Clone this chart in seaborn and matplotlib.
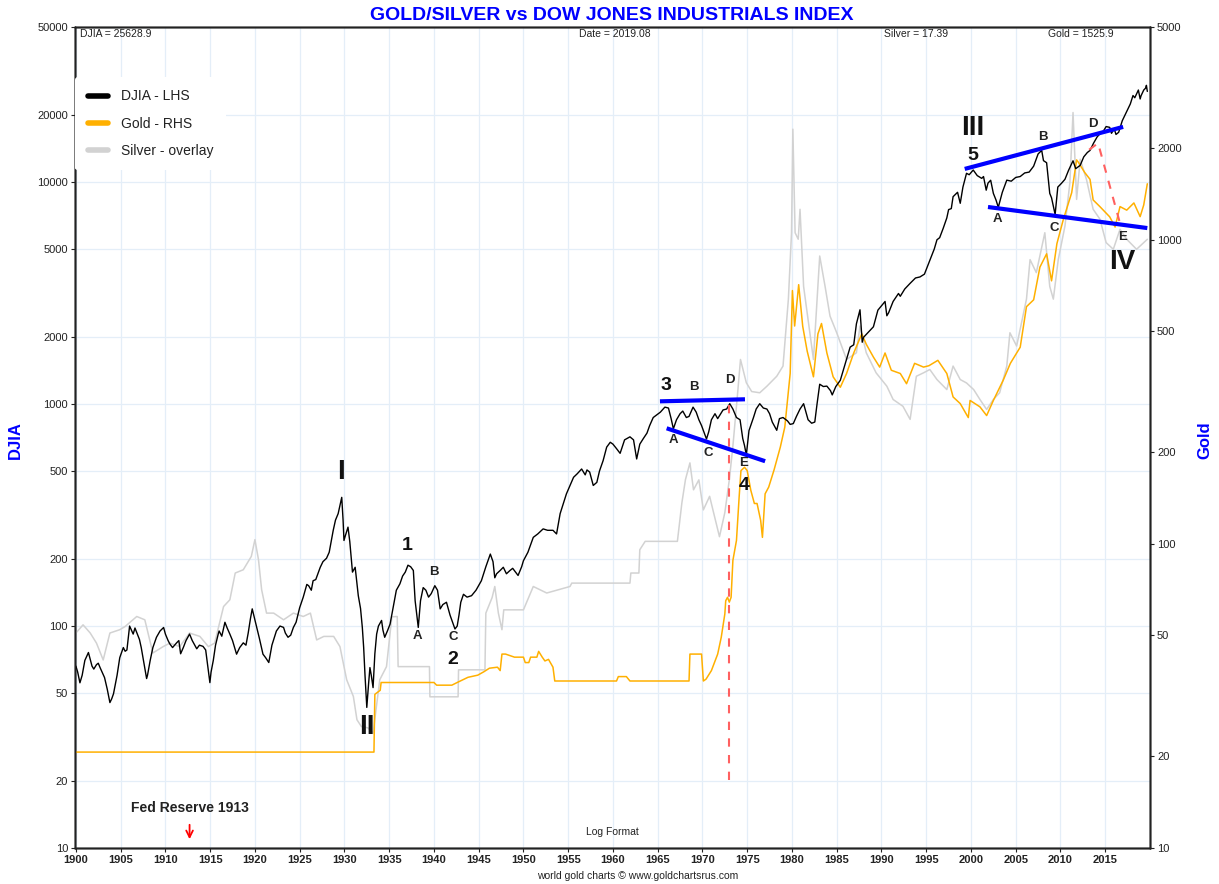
import numpy as np
import pandas as pd
import matplotlib
matplotlib.use("Agg")
import matplotlib.pyplot as plt
import matplotlib.transforms as mtransforms
from matplotlib.lines import Line2D
from matplotlib.ticker import NullLocator, FixedLocator
import seaborn as sns

sns.set_theme(style="white")
plt.rcParams['font.family'] = ['Liberation Sans', 'DejaVu Sans']

# ---------------- data ----------------
# DJIA, 1900-1935
djia_a_year = [1900.0, 1900.2, 1900.45, 1900.7, 1901.0, 1901.2, 1901.4, 1901.8, 1902.0, 1902.3,
               1902.5, 1902.7, 1903.2, 1903.5, 1903.8, 1904.0, 1904.2, 1904.6, 1904.9, 1905.0,
               1905.3, 1905.5, 1905.7, 1906.0, 1906.2, 1906.4, 1906.6, 1906.8, 1907.1, 1907.3,
               1907.6, 1907.9, 1908.0, 1908.3, 1908.6, 1909.0, 1909.4, 1909.8, 1910.0, 1910.3,
               1910.5, 1910.8, 1911.25, 1911.5, 1911.7, 1912.0, 1912.3, 1912.7, 1913.0, 1913.5,
               1913.8, 1914.2, 1914.5, 1914.97, 1915.1, 1915.35, 1915.6, 1915.9, 1916.0, 1916.3,
               1916.65, 1916.9, 1917.2, 1917.5, 1917.95, 1918.3, 1918.7, 1919.0, 1919.25, 1919.5,
               1919.7, 1920.2, 1920.5, 1920.9, 1921.2, 1921.55, 1921.9, 1922.4, 1922.8, 1923.2,
               1923.4, 1923.7, 1924.0, 1924.3, 1924.6, 1925.0, 1925.4, 1925.8, 1926.0, 1926.3,
               1926.5, 1926.8, 1927.3, 1927.6, 1928.0, 1928.3, 1928.75, 1929.0, 1929.3, 1929.7,
               1929.85, 1929.95, 1930.1, 1930.4, 1930.6, 1930.9, 1931.2, 1931.55, 1931.8, 1932.0,
               1932.15, 1932.3, 1932.5, 1932.7, 1932.85, 1933.0, 1933.2, 1933.4, 1933.6, 1933.8,
               1934.15, 1934.3, 1934.5, 1934.8]
djia_a_val = [66, 62, 55.5, 60, 70, 73, 76, 66, 64, 67,
              68, 65, 58.6, 52, 45.2, 47, 49.5, 60, 72, 74,
              80, 77, 78, 100, 96, 92, 98, 93.5, 87, 80,
              68, 58, 60, 70, 80, 89, 95, 98.5, 92, 86,
              83, 80, 84, 86, 75, 80, 86, 92, 86, 79,
              82, 81, 78, 55.6, 62, 70, 82, 92, 95, 90,
              104, 98, 92, 86, 74.7, 80, 84, 82, 93, 108,
              119.5, 98.6, 88, 74.7, 72, 68.5, 82, 95, 100, 98.6,
              93, 89, 91, 98.6, 104, 121, 135, 154, 152, 145,
              160, 162, 184, 195, 202, 215, 270, 300, 321, 380,
              300, 243, 255, 279, 240, 175, 184, 137, 120, 98.6,
              80, 60, 43, 55, 65, 60, 52.8, 75, 92, 100,
              106, 96, 89, 95]

# DJIA, 1935-1975
djia_b_year = [1935.1, 1935.5, 1935.8, 1936.2, 1936.5, 1936.8, 1937.1, 1937.4, 1937.7, 1937.9,
               1938.0, 1938.25, 1938.5, 1938.8, 1939.1, 1939.4, 1939.7, 1940.1, 1940.4, 1940.7,
               1941.0, 1941.4, 1941.8, 1942.35, 1942.6, 1942.8, 1943.0, 1943.3, 1943.7, 1944.2,
               1944.7, 1945.3, 1945.8, 1946.3, 1946.6, 1946.8, 1947.0, 1947.4, 1947.75, 1948.1,
               1948.5, 1948.8, 1949.4, 1949.8, 1950.0, 1950.5, 1951.1, 1951.6, 1952.2, 1952.7,
               1953.3, 1953.7, 1954.1, 1954.8, 1955.1, 1955.6, 1956.0, 1956.5, 1956.9, 1957.1,
               1957.4, 1957.8, 1958.2, 1958.5, 1958.9, 1959.3, 1959.7, 1960.0, 1960.4, 1960.8,
               1961.3, 1961.9, 1962.3, 1962.65, 1963.0, 1963.4, 1963.8, 1964.1, 1964.5, 1965.3,
               1965.8, 1966.2, 1966.5, 1966.75, 1967.1, 1967.5, 1967.8, 1968.2, 1968.5, 1968.95,
               1969.3, 1969.6, 1969.9, 1970.45, 1970.7, 1971.0, 1971.4, 1971.7, 1972.3, 1972.7,
               1973.05, 1973.4, 1973.8, 1974.2, 1974.5, 1974.7, 1974.9, 1975.2, 1975.7]
djia_b_val = [102, 125, 145, 155, 168, 175, 188, 185, 178, 130,
              120, 98.6, 130, 149, 145, 135, 140, 152, 145, 119.5,
              125, 128, 112, 97, 100, 112, 128, 139, 135, 137,
              145, 160, 185, 211, 195, 165, 172, 178, 184, 172,
              178, 182, 169, 185, 197, 215, 251, 260, 274, 270,
              270, 260, 321, 394, 420, 468, 485, 510, 480, 505,
              494, 430, 444, 500, 556, 640, 673, 660, 630, 600,
              690, 712, 690, 566, 660, 700, 740, 800, 870, 920,
              969, 960, 860, 774, 850, 905, 930, 870, 880, 969,
              920, 850, 800, 696, 750, 850, 905, 860, 941, 950,
              1004, 950, 870, 850, 700, 650, 590, 760, 870]

# DJIA, 1976-2019
djia_c_year = [1976.0, 1976.4, 1976.8, 1977.2, 1977.5, 1977.8, 1978.3, 1978.6, 1979.0, 1979.5,
               1979.8, 1980.15, 1980.5, 1980.9, 1981.3, 1981.8, 1982.2, 1982.55, 1982.8, 1983.1,
               1983.5, 1983.9, 1984.3, 1984.5, 1984.9, 1985.4, 1985.8, 1986.5, 1986.9, 1987.2,
               1987.6, 1987.85, 1988.0, 1988.5, 1989.1, 1989.6, 1990.4, 1990.6, 1990.8, 1991.3,
               1991.9, 1992.1, 1992.6, 1993.2, 1993.8, 1994.3, 1994.8, 1995.4, 1995.9, 1996.2,
               1996.5, 1996.9, 1997.3, 1997.5, 1997.8, 1998.0, 1998.5, 1998.8, 1999.1, 1999.5,
               1999.8, 2000.25, 2000.7, 2001.2, 2001.4, 2001.7, 2001.9, 2002.2, 2002.5, 2002.8,
               2003.05, 2003.5, 2004.0, 2004.5, 2005.0, 2005.5, 2006.0, 2006.5, 2007.0, 2007.5,
               2007.9, 2008.1, 2008.45, 2008.8, 2009.0, 2009.4, 2009.7, 2010.1, 2010.5, 2010.9,
               2011.4, 2011.7, 2012.2, 2012.6, 2013.0, 2013.3, 2013.7, 2014.1, 2014.4, 2014.8,
               2015.1, 2015.5, 2015.7, 2016.0, 2016.2, 2016.5, 2016.9, 2017.4, 2017.8, 2018.1,
               2018.3, 2018.5, 2018.7, 2018.9, 2019.0, 2019.3, 2019.5, 2019.6, 2019.7]
djia_c_val = [950, 1004, 960, 950, 905, 830, 762, 860, 870, 840,
              810, 817, 880, 950, 1004, 850, 820, 830, 1000, 1229,
              1200, 1205, 1150, 1100, 1200, 1280, 1450, 1806, 1850, 2300,
              2660, 1900, 2000, 2100, 2230, 2650, 2900, 2500, 2580, 2900,
              3150, 3060, 3300, 3500, 3700, 3740, 3850, 4440, 5000, 5500,
              5620, 6200, 6900, 7520, 7600, 8600, 9000, 8030, 9500, 10960,
              10800, 11340, 10700, 10400, 10600, 9200, 9900, 10200, 8900, 8300,
              7700, 9000, 10210, 10100, 10500, 10600, 11000, 11100, 11800, 13400,
              13900, 12500, 12230, 8900, 8500, 7150, 9500, 9870, 10300, 11300,
              12480, 11500, 11900, 13000, 13600, 13900, 15000, 16000, 16500, 17000,
              17800, 17650, 16600, 17400, 16400, 16770, 18900, 20800, 22500, 24560,
              24000, 25000, 26000, 23700, 24500, 26000, 26500, 27300, 25628.9]

gold_year = [1900.0, 1933.3, 1933.4, 1934.0, 1934.1, 1940.0, 1940.3, 1942.0, 1942.6, 1943.8,
             1944.9, 1945.6, 1946.2, 1947.1, 1947.4, 1947.6, 1948.0, 1949.0, 1950.0, 1950.2,
             1950.6, 1950.8, 1951.5, 1951.7, 1952.1, 1952.4, 1952.8, 1953.3, 1953.5, 1960.4,
             1960.6, 1961.5, 1961.9, 1968.5, 1968.6, 1969.9, 1970.1, 1970.4, 1971.0, 1971.7,
             1972.1, 1972.5, 1972.6, 1972.8, 1973.0, 1973.2, 1973.4, 1973.8, 1974.1, 1974.3,
             1974.7, 1975.0, 1975.4, 1975.8, 1976.1, 1976.5, 1976.7, 1977.0, 1977.4, 1978.0,
             1978.7, 1979.2, 1979.8, 1980.05, 1980.3, 1980.75, 1981.2, 1981.7, 1982.4, 1982.9,
             1983.3, 1983.9, 1984.6, 1985.4, 1986.1, 1986.9, 1987.8, 1988.3, 1989.1, 1989.8,
             1990.4, 1991.1, 1992.1, 1992.8, 1993.7, 1994.7, 1995.3, 1996.3, 1997.3, 1998.0,
             1998.8, 1999.7, 1999.9, 2001.0, 2001.75, 2002.5, 2003.6, 2004.4, 2005.5, 2006.2,
             2007.0, 2007.7, 2008.45, 2009.0, 2009.6, 2010.3, 2011.25, 2011.8, 2012.0, 2012.7,
             2013.3, 2013.65, 2014.4, 2015.5, 2016.1, 2016.65, 2017.4, 2018.2, 2018.9, 2019.3,
             2019.7]
gold_val = [20.67, 20.67, 32, 33, 35, 35, 34.3, 34.3, 35, 36.4,
            37, 38, 39, 39.3, 38.3, 43.4, 43.4, 42.4, 42.4, 40.7,
            40.7, 42.4, 42.4, 44.3, 42.4, 41.2, 41.7, 39.3, 35.4, 35.4,
            36.6, 36.6, 35.4, 35.4, 43.4, 43.4, 35.4, 35.9, 38.3, 43.4,
            49.3, 58.8, 65, 66.7, 64.3, 66.7, 88.2, 102.6, 142.8, 174,
            178.5, 174, 150, 135.7, 135.7, 119.5, 105, 146, 153.6, 175,
            208, 242, 363, 680, 520, 711, 519, 430, 354, 490,
            530, 424, 354, 327, 363, 424, 490, 453, 411, 381,
            424, 372, 363, 336, 392, 381, 385, 401, 363, 304,
            289, 260, 296, 282, 264, 296, 345, 392, 443, 602,
            634, 812, 898, 732, 970, 1160, 1426, 1828, 1795, 1663,
            1578, 1350, 1284, 1188, 1100, 1284, 1250, 1320, 1190, 1300,
            1525.9]

silver_year = [1900.0, 1900.8, 1901.6, 1902.3, 1903.05, 1903.8, 1904.9, 1905.5, 1906.8, 1907.7,
               1908.6, 1909.75, 1910.5, 1911.6, 1912.7, 1913.85, 1914.8, 1915.5, 1916.5, 1917.2,
               1917.8, 1918.7, 1919.6, 1920.0, 1920.4, 1920.75, 1921.3, 1922.1, 1923.2, 1924.3,
               1925.4, 1926.2, 1926.9, 1927.7, 1928.8, 1929.5, 1930.25, 1931.0, 1931.4, 1931.9,
               1932.65, 1933.2, 1933.95, 1934.7, 1935.3, 1935.9, 1936.0, 1939.5, 1939.55, 1942.7,
               1942.75, 1945.7, 1945.8, 1946.5, 1946.8, 1947.2, 1947.6, 1947.8, 1950.0, 1951.1,
               1952.6, 1955.2, 1955.4, 1961.9, 1962.0, 1962.9, 1963.0, 1963.6, 1967.2, 1967.7,
               1968.1, 1968.6, 1969.0, 1969.6, 1970.1, 1970.8, 1971.9, 1972.5, 1973.0, 1973.4,
               1973.9, 1974.25, 1974.9, 1975.5, 1976.4, 1977.2, 1978.3, 1979.0, 1979.6, 1979.95,
               1980.1, 1980.35, 1980.7, 1980.9, 1981.3, 1982.0, 1982.4, 1983.1, 1983.7, 1984.25,
               1985.0, 1986.1, 1987.2, 1987.6, 1988.3, 1989.4, 1990.6, 1991.3, 1992.4, 1993.2,
               1993.9, 1994.7, 1995.4, 1996.2, 1997.3, 1998.0, 1998.8, 1999.5, 2000.3, 2001.0,
               2001.75, 2002.5, 2003.2, 2004.0, 2004.35, 2005.1, 2006.2, 2006.6, 2007.3, 2008.25,
               2008.8, 2009.2, 2009.75, 2010.5, 2011.05, 2011.4, 2011.8, 2012.2, 2012.9, 2013.65,
               2014.4, 2015.1, 2015.9, 2016.65, 2017.4, 2018.5, 2019.7]
silver_val = [0.59, 0.633, 0.59, 0.541, 0.468, 0.59, 0.607, 0.624, 0.68, 0.661,
              0.497, 0.525, 0.541, 0.525, 0.59, 0.573, 0.525, 0.541, 0.741, 0.785,
              0.988, 1.016, 1.14, 1.316, 1.108, 0.856, 0.70, 0.70, 0.661, 0.70,
              0.68, 0.70, 0.556, 0.573, 0.573, 0.525, 0.395, 0.342, 0.28, 0.264,
              0.261, 0.249, 0.395, 0.442, 0.678, 0.68, 0.442, 0.442, 0.341, 0.341,
              0.43, 0.43, 0.70, 0.80, 0.88, 0.70, 0.607, 0.72, 0.72, 0.88,
              0.832, 0.88, 0.906, 0.906, 0.988, 0.988, 1.207, 1.297, 1.297, 1.805,
              2.205, 2.546, 2.02, 2.2, 1.70, 1.91, 1.35, 1.66, 2.2, 2.94,
              4.52, 6.19, 5.07, 4.7, 4.65, 4.92, 5.36, 5.85, 10.4, 18.4,
              44.8, 18.4, 17.4, 22.5, 11.6, 7.79, 6.19, 15.06, 11.6, 8.99,
              7.79, 6.19, 6.56, 8.25, 6.56, 5.52, 4.92, 4.39, 4.14, 3.70,
              5.36, 5.52, 5.68, 5.21, 4.78, 5.85, 5.21, 5.06, 4.78, 4.39,
              4.03, 4.39, 4.65, 5.85, 7.79, 6.95, 10.4, 14.6, 13.06, 18.4,
              11.6, 10.4, 14.6, 19.5, 28.3, 51.7, 24.5, 34.6, 29.1, 22.5,
              20.7, 16.9, 15.96, 18.95, 17.39, 15.96, 17.39]

# trend lines (year, DJIA value)
tl_3d_year, tl_3d_val = [1965.25, 1974.75], [1029, 1051]
tl_ae1_year, tl_ae1_val = [1966.0, 1977.0], [778, 553]
tl_5d_year, tl_5d_val = [1999.3, 2017.0], [11470, 17740]
tl_ae2_year, tl_ae2_val = [2001.9, 2019.7], [7727, 6210]
dash_v_year, dash_v_val = [1973.0, 1973.0], [990, 20]
dash_d_year, dash_d_val = [2013.2, 2014.2, 2016.8], [14000, 14980, 6195]

djia_ticks = [10, 20, 50, 100, 200, 500, 1000, 2000, 5000, 10000, 20000, 50000]
gold_ticks = [10, 20, 50, 100, 200, 500, 1000, 2000, 5000]
year_ticks = list(range(1900, 2020, 5))

title = "GOLD/SILVER vs DOW JONES INDUSTRIALS INDEX"
info_texts = ["DJIA = 25628.9", "Date = 2019.08", "Silver = 17.39", "Gold = 1525.9"]

df_d = pd.DataFrame({"year": djia_a_year + djia_b_year + djia_c_year,
                     "val": djia_a_val + djia_b_val + djia_c_val})
df_g = pd.DataFrame({"year": gold_year, "val": gold_val})
df_s = pd.DataFrame({"year": silver_year, "val": silver_val})

# ---------------- figure ----------------
W, H = 1219, 884
fig = plt.figure(figsize=(W / 100, H / 100), dpi=100)
fig.patch.set_facecolor("white")
L, R, T, B = 75, 1150, 27, 848
ax = fig.add_axes([L / W, (H - B) / H, (R - L) / W, (B - T) / H])
ax.set_facecolor("white")
ax.set_xlim(1899.9, 2020.0)
ax.set_yscale("log")
ax.set_ylim(10, 50000)
ax.yaxis.set_major_locator(FixedLocator(djia_ticks))
ax.yaxis.set_minor_locator(NullLocator())
ax.set_yticklabels([str(t) for t in djia_ticks])
ax.set_xticks(year_ticks)
ax.set_xticklabels([str(t) for t in year_ticks])
for lab in ax.get_xticklabels():
    lab.set_fontweight("bold")
ax.grid(True, color="#e4eef8", lw=0.9)
ax.tick_params(axis="both", labelsize=8, length=3, width=0.8, colors="#222222",
               direction="out", left=True, bottom=True, pad=2)
for sp in ax.spines.values():
    sp.set_color("#222222")
    sp.set_linewidth(1.0)

ax_s = ax.twinx()
ax_s.set_yscale("log")
ax_s.set_ylim(0.093, 107.8)
ax_s.yaxis.set_major_locator(NullLocator())
ax_s.yaxis.set_minor_locator(NullLocator())
ax_s.tick_params(right=False, labelright=False)

ax_g = ax.twinx()
ax_g.set_yscale("log")
ax_g.set_ylim(10, 5000)
ax_g.yaxis.set_major_locator(FixedLocator(gold_ticks))
ax_g.yaxis.set_minor_locator(NullLocator())
ax_g.set_yticklabels([str(t) for t in gold_ticks])
ax_g.tick_params(axis="y", labelsize=8, length=3, width=0.8, colors="#222222", pad=2)

ax_d = ax.twinx()
ax_d.set_yscale("log")
ax_d.set_ylim(10, 50000)
ax_d.yaxis.set_major_locator(NullLocator())
ax_d.yaxis.set_minor_locator(NullLocator())
ax_d.tick_params(right=False, labelright=False)

for a in (ax_s, ax_g, ax_d):
    for sp in a.spines.values():
        sp.set_color("#222222")
        sp.set_linewidth(1.0)

sns.lineplot(data=df_s, x="year", y="val", ax=ax_s, estimator=None, sort=False,
             color="#d2d2d2", lw=1.1)
sns.lineplot(data=df_g, x="year", y="val", ax=ax_g, estimator=None, sort=False,
             color="#ffb000", lw=1.1)
sns.lineplot(data=df_d, x="year", y="val", ax=ax_d, estimator=None, sort=False,
             color="black", lw=1.0)
for a in (ax, ax_s, ax_g, ax_d):
    a.set_xlabel("")
    a.set_ylabel("")
    a.set_xlim(1899.9, 2020.0)

# trend lines
for xs, ys in [(tl_3d_year, tl_3d_val), (tl_ae1_year, tl_ae1_val),
               (tl_5d_year, tl_5d_val), (tl_ae2_year, tl_ae2_val)]:
    ax_d.plot(xs, ys, color="#0000ff", lw=3.0, solid_capstyle="butt", zorder=5)
for xs, ys in [(dash_v_year, dash_v_val), (dash_d_year, dash_d_val)]:
    ax_d.plot(xs, ys, color="#ff6060", lw=1.5, ls=(0, (4, 4)), zorder=4)

# annotations: x in years, y in pixel rows -> axes fraction
trans = mtransforms.blended_transform_factory(ax_d.transData, ax_d.transAxes)
def fy(ypix):
    return (B - ypix) / (B - T)

big = [("I", 1929.6, 472), ("II", 1932.5, 727), ("III", 2000.2, 128), ("IV", 2016.9, 262)]
for s, x, y in big:
    ax_d.text(x, fy(y), s, transform=trans, ha="center", va="center",
              fontsize=20, fontweight="bold", color="#111111", zorder=6)
nums = [("1", 1937.0, 545), ("2", 1942.1, 660), ("3", 1965.9, 386), ("4", 1974.7, 486),
        ("5", 2000.2, 155)]
for s, x, y in nums:
    ax_d.text(x, fy(y), s, transform=trans, ha="center", va="center",
              fontsize=14, fontweight="bold", color="#111111", zorder=6)
letters = [("A", 1938.2, 636), ("B", 1940.0, 572), ("C", 1942.2, 637),
           ("A", 1966.8, 440), ("B", 1969.0, 387), ("C", 1970.6, 453), ("D", 1973.1, 380),
           ("E", 1974.6, 463),
           ("A", 2003.0, 219), ("B", 2008.0, 137), ("C", 2009.3, 228), ("D", 2013.6, 124),
           ("E", 2016.9, 237)]
for s, x, y in letters:
    ax_d.text(x, fy(y), s, transform=trans, ha="center", va="center",
              fontsize=9.5, fontweight="bold", color="#222222", zorder=6)

ax_d.text(1912.7, fy(808), "Fed Reserve 1913", transform=trans, ha="center", va="center",
          fontsize=10, fontweight="bold", color="#222222")
ax_d.annotate("", xy=(1912.7, fy(842)), xytext=(1912.7, fy(822)),
              xycoords=trans, textcoords=trans,
              arrowprops=dict(arrowstyle="->", color="red", lw=1.3))

# info texts
ax_d.text(0.005, fy(34), info_texts[0], transform=ax_d.transAxes, ha="left", va="center",
          fontsize=7.5, color="#222222")
ax_d.text(0.502, fy(34), info_texts[1], transform=ax_d.transAxes, ha="center", va="center",
          fontsize=7.5, color="#222222")
ax_d.text((884 - L) / (R - L), fy(34), info_texts[2], transform=ax_d.transAxes, ha="left",
          va="center", fontsize=7.5, color="#222222")
ax_d.text((1048 - L) / (R - L), fy(34), info_texts[3], transform=ax_d.transAxes, ha="left",
          va="center", fontsize=7.5, color="#222222")
ax_d.text(0.5, fy(832), "Log Format", transform=ax_d.transAxes, ha="center", va="center",
          fontsize=7.5, color="#222222")

# legend
handles = [Line2D([0], [0], color="black", lw=4),
           Line2D([0], [0], color="#ffb000", lw=4),
           Line2D([0], [0], color="#d2d2d2", lw=4)]
leg = ax_d.legend(handles, ["DJIA - LHS", "Gold - RHS", "Silver - overlay"],
                  loc="upper left", bbox_to_anchor=(0.0, fy(77)), frameon=True,
                  fontsize=10, handlelength=1.5, handletextpad=0.9, labelspacing=0.95,
                  borderpad=0.9, borderaxespad=0.0)
leg.get_frame().set_facecolor("white")
leg.get_frame().set_edgecolor("none")
leg.get_frame().set_alpha(1.0)
for t in leg.get_texts():
    t.set_color("#222222")

# titles / axis labels / footer
fig.text(612 / W, 1 - 15 / H, title, ha="center", va="center", color="#0000ff",
         fontsize=14, fontweight="bold")
fig.text(15 / W, 1 - 440 / H, "DJIA", rotation=90, ha="center", va="center",
         color="#0000ff", fontsize=12, fontweight="bold")
fig.text(1205 / W, 1 - 440 / H, "Gold", rotation=90, ha="center", va="center",
         color="#0000ff", fontsize=12, fontweight="bold")
fig.text(638 / W, 1 - 876 / H, "world gold charts \u00a9 www.goldchartsrus.com",
         ha="center", va="center", fontsize=7.5, color="#222222")

fig.savefig("out.png", dpi=100, facecolor="white")
